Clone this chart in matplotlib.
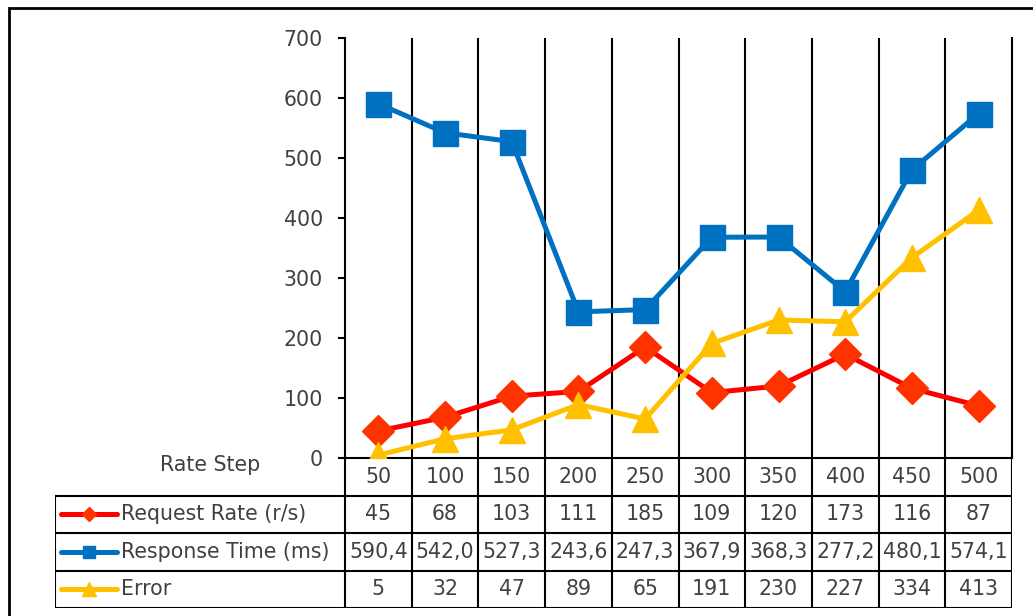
import numpy as np
import matplotlib.pyplot as plt
from matplotlib.patches import Rectangle
from matplotlib.lines import Line2D

plt.rcParams['font.family'] = ['DejaVu Sans']
plt.rcParams['font.size'] = 14.8

# data
rate_steps = [50, 100, 150, 200, 250, 300, 350, 400, 450, 500]
request_rate = [45, 68, 103, 111, 185, 109, 120, 173, 116, 87]
response_time = [590.4, 542.0, 527.3, 243.6, 247.3, 367.9, 368.3, 277.2, 480.1, 574.1]
errors = [5, 32, 47, 89, 65, 191, 230, 227, 334, 413]

series = [
    ('Request Rate (r/s)', request_rate, '#FF0000', 'D', '#FF3300', 16, 7, '{:d}'),
    ('Response Time (ms)', response_time, '#0070C0', 's', '#0070C0', 18, 9, '{:.1f}'),
    ('Error', errors, '#FFC000', '^', '#FFC000', 19, 10, '{:d}'),
]

W, H = 1033, 616
txt = '#404040'
fig = plt.figure(figsize=(W / 100, H / 100), dpi=100)

def box(x0, y0, x1, y1):
    return [x0 / W, 1 - y1 / H, (x1 - x0) / W, (y1 - y0) / H]

# main plot area
ax = fig.add_axes(box(345, 38, 1012, 458))
x = np.arange(len(rate_steps))
for name, vals, lc, mk, mc, ms, _, _ in series:
    ax.plot(x, vals, color=lc, lw=3.6, marker=mk, ms=ms, mfc=mc, mec=mc, zorder=3)
ax.set_xlim(-0.5, len(x) - 0.5)
ax.set_ylim(0, 700)
ax.set_yticks(range(0, 701, 100))
ax.set_xticks([])
ax.set_xticks(np.arange(0.5, len(x) - 0.5), minor=True)
ax.grid(axis='x', which='minor', color='black', lw=1.5)
ax.tick_params(axis='x', which='minor', length=0)
ax.tick_params(axis='y', length=5, width=1.5, colors='black', labelcolor=txt, pad=11)
for s in ['left', 'bottom', 'right']:
    ax.spines[s].set_linewidth(1.5)
ax.spines['top'].set_visible(False)

# data table under the plot
pw = 667 / len(x)
xmin = -0.5 - (345 - 55) / pw
tb = fig.add_axes(box(55, 458, 1012, 608))
tb.set_xlim(xmin, len(x) - 0.5)
tb.set_ylim(4, 0)
tb.axis('off')
lk = dict(color='black', lw=1.5, solid_capstyle='projecting')
for r in range(1, 5):
    tb.plot([xmin, len(x) - 0.5], [r, r], **lk)
for b in np.arange(-0.5, len(x)):
    tb.plot([b, b], [0, 4], **lk)
tb.plot([xmin, xmin], [1, 4], **lk)

for i, v in enumerate(rate_steps):
    tb.text(i, 0.5, str(v), ha='center', va='center', color=txt)
fig.text(210 / W, 1 - 465 / H, 'Rate Step', ha='center', va='center', color=txt)

for r, (name, vals, lc, mk, mc, ms, lms, fmt) in enumerate(series, start=1):
    for i, v in enumerate(vals):
        tb.text(i, r + 0.5, fmt.format(v).replace('.', ','), ha='center', va='center', color=txt)
    kx0 = xmin + 6 / pw
    kx1 = xmin + 62 / pw
    tb.add_line(Line2D([kx0, kx1], [r + 0.5, r + 0.5], color=lc, lw=3.6, solid_capstyle='round'))
    tb.plot([(kx0 + kx1) / 2], [r + 0.5], marker=mk, ms=lms, mfc=mc, mec=mc, ls='none')
    tb.text(xmin + 66 / pw, r + 0.5, name, ha='left', va='center', color=txt)

# outer chart border
fig.add_artist(Rectangle((9 / W, -0.1), 1.2, 1 - 8 / H + 0.1, transform=fig.transFigure,
                         fill=False, ec='black', lw=2))

fig.savefig('out.png', dpi=100)
